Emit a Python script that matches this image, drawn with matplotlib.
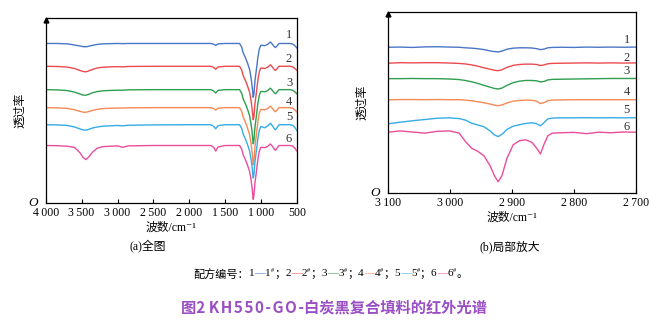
import matplotlib
matplotlib.use('Agg')
import matplotlib.pyplot as plt

plt.rcParams['font.family'] = ['Liberation Serif', 'Noto Sans CJK SC', 'DejaVu Serif']
plt.rcParams['mathtext.fontset'] = 'stix'

colors = ['#4a76c6', '#ec4a4e', '#2f9e50', '#f58a56', '#35ace6', '#e94d9c']
labels = ['1', '2', '3', '4', '5', '6']

# (a) full spectrum, transmittance (arbitrary units)
wn_full = [4000, 3850, 3700, 3600, 3520, 3480, 3440, 3400, 3350, 3280, 3200, 3100,
           3000, 2930, 2850, 2500, 2000, 1700, 1660, 1632, 1600, 1500, 1400, 1300,
           1270, 1250, 1220, 1190, 1160, 1140, 1125, 1110, 1100, 1085, 1065, 1045,
           1025, 1005, 980, 950, 910, 870, 840, 815, 800, 780, 750, 700, 600, 560,
           530, 500]

full_1 = [86, 86, 85.8, 85.2, 84.6, 84.3, 84.2, 84.5, 85.0, 85.5, 85.8, 85.9,
          86, 85.9, 86, 86, 86, 86, 85.6, 85.0, 85.8, 86, 86, 86,
          84, 81, 78.5, 75.5, 72, 67.5, 63, 57, 58.5, 66, 72, 78.5,
          83, 85, 85, 84.8, 85.5, 86.8, 85.5, 84.2, 83.8, 84.6, 86, 86, 86, 85.7,
          84.8, 83.5]
full_2 = [73.7, 73.6, 73.3, 72.5, 71.4, 70.9, 70.7, 71.2, 72.0, 72.8, 73.2, 73.4,
          73.5, 73.4, 73.6, 73.7, 73.7, 73.7, 73.1, 72.1, 73.3, 73.7, 73.7, 73.7,
          71.7, 68.7, 66.2, 63.2, 59.7, 55.2, 50.7, 44.9, 46.5, 53.7, 59.7, 66.2,
          70.7, 72.7, 72.7, 72.5, 73.2, 74.5, 73.2, 71.9, 71.5, 72.3, 73.7, 73.7, 73.7, 73.4,
          72.5, 71.5]
full_3 = [61.1, 61.0, 60.6, 59.8, 58.7, 58.2, 58.1, 58.6, 59.4, 60.1, 60.5, 60.7,
          60.8, 60.8, 61.0, 61.1, 61.1, 61.1, 60.4, 59.3, 60.7, 61.1, 61.1, 61.1,
          59.1, 56.1, 53.6, 50.6, 47.1, 42.6, 38.1, 31.9, 33.6, 41.1, 47.1, 53.6,
          58.1, 60.1, 60.1, 59.9, 60.6, 61.9, 60.6, 59.3, 58.9, 59.7, 61.1, 61.1, 61.1, 60.8,
          59.9, 58.8]
full_4 = [51.4, 51.3, 51.0, 50.3, 49.4, 49.0, 48.9, 49.3, 49.9, 50.5, 50.9, 51.1,
          51.2, 51.2, 51.3, 51.4, 51.4, 51.4, 50.9, 50.1, 51.1, 51.4, 51.4, 51.4,
          49.4, 46.4, 43.7, 40.5, 36.8, 32.0, 27.3, 20.5, 22.3, 30.5, 37.0, 43.8,
          48.4, 50.4, 50.4, 50.2, 50.9, 52.2, 50.9, 49.6, 49.2, 50.0, 51.4, 51.4, 51.4, 51.1,
          50.2, 49.0]
full_5 = [42.2, 42.1, 41.8, 41.0, 39.9, 39.4, 39.3, 39.7, 40.4, 41.0, 41.4, 41.6,
          41.8, 41.6, 41.9, 42.1, 42.2, 42.2, 41.3, 40.0, 41.7, 42.2, 42.2, 42.2,
          40.2, 37.2, 34.6, 31.6, 28.0, 23.6, 19.3, 13.5, 15.2, 22.4, 28.3, 34.7,
          39.2, 41.2, 41.0, 40.5, 41.5, 43.0, 41.5, 40.0, 39.5, 40.5, 42.2, 42.2, 42.2, 41.9,
          40.7, 39.0]
full_6 = [31.0, 30.9, 30.6, 30.0, 27.0, 24.6, 23.4, 24.8, 27.3, 29.6, 30.4, 30.6,
          30.8, 30.0, 30.8, 31.0, 31.0, 31.0, 30.0, 28.0, 30.2, 31.0, 31.0, 31.0,
          29.0, 26.0, 23.5, 20.5, 17.0, 12.5, 8.0, 2.0, 4.0, 11.0, 17.0, 23.5,
          28.0, 30.0, 30.0, 29.8, 30.5, 31.8, 30.5, 29.0, 28.4, 29.5, 31.0, 31.0, 31.0, 30.7,
          29.5, 28.0]

# (b) zoomed region 3100-2700
wn_zoom = [3100, 3080, 3060, 3040, 3020, 3000, 2985, 2975, 2965, 2955, 2945, 2935,
           2928, 2922, 2916, 2908, 2898, 2888, 2878, 2868, 2860, 2854, 2848, 2842,
           2835, 2820, 2800, 2780, 2760, 2740, 2720, 2700]

zoom_1 = [80.3, 80.4, 80.2, 80.5, 80.6, 80.4, 80.3, 80.0, 79.8, 79.5, 79.0, 78.3,
          77.9, 77.7, 78.2, 79.2, 79.8, 80.0, 80.0, 79.9, 79.5, 79.0, 79.3, 80.0,
          80.2, 80.3, 80.2, 80.4, 80.3, 80.4, 80.3, 80.4]
zoom_2 = [71.5, 71.8, 71.7, 71.8, 71.8, 71.6, 71.4, 71.1, 70.6, 69.9, 69.0, 68.2,
          67.6, 67.4, 67.9, 69.2, 70.3, 70.8, 71.0, 71.0, 70.8, 70.2, 70.6, 71.2,
          71.4, 71.5, 71.6, 71.7, 71.6, 71.7, 71.6, 71.7]
zoom_3 = [63.0, 63.0, 63.1, 63.0, 63.0, 62.8, 62.5, 62.0, 61.3, 60.4, 59.3, 58.3,
          57.6, 57.3, 57.8, 59.3, 60.8, 61.6, 62.0, 62.0, 61.8, 61.2, 61.5, 62.3,
          62.6, 62.7, 62.8, 62.9, 63.0, 63.1, 63.1, 63.1]
zoom_4 = [51.3, 51.5, 51.5, 51.4, 51.5, 51.4, 51.4, 51.2, 50.8, 50.3, 49.7, 49.0,
          48.4, 48.1, 48.5, 49.6, 50.6, 51.0, 51.2, 51.1, 50.6, 49.3, 49.8, 50.9,
          51.2, 51.3, 51.4, 51.4, 51.4, 51.4, 51.4, 51.4]
zoom_5 = [38.1, 39.0, 39.8, 40.5, 41.2, 41.4, 41.0, 40.2, 38.5, 37.5, 36.5, 34.2,
          32.0, 31.1, 32.3, 35.0, 36.8, 37.6, 38.3, 38.7, 38.2, 37.0, 38.8, 40.8,
          41.3, 41.4, 41.4, 41.5, 41.4, 41.5, 41.4, 41.5]
zoom_6 = [33.5, 34.2, 33.6, 33.0, 34.0, 34.2, 33.0, 28.5, 24.7, 23.0, 20.5, 15.0,
          9.5, 6.2, 9.5, 19.0, 26.5, 28.8, 29.3, 28.0, 24.7, 21.5, 27.0, 31.5,
          33.0, 33.2, 33.4, 32.7, 33.5, 33.2, 33.6, 33.5]

full_ticks = [4000, 3500, 3000, 2500, 2000, 1500, 1000, 500]
full_ticklabels = ['4\u2009000', '3\u2009500', '3\u2009000', '2\u2009500', '2\u2009000',
                   '1\u2009500', '1\u2009000', '500']
zoom_ticks = [3100, 3000, 2900, 2800, 2700]
zoom_ticklabels = ['3\u2009100', '3\u2009000', '2\u2009900', '2\u2009800', '2\u2009700']

full_label_y = [90.8, 77.8, 64.9, 54.6, 46.5, 34.6]
zoom_label_y = [84.1, 74.4, 67.4, 55.6, 45.9, 36.1]

W, H = 658, 323
fig = plt.figure(figsize=(W / 100, H / 100), dpi=100)


def px_axes(x0, y0, x1, y1):
    return fig.add_axes([x0 / W, 1 - y1 / H, (x1 - x0) / W, (y1 - y0) / H])


ax1 = px_axes(45.7, 17.5, 297, 203)
ax2 = px_axes(387.7, 11.5, 636, 193)

full_series = [full_1, full_2, full_3, full_4, full_5, full_6]
zoom_series = [zoom_1, zoom_2, zoom_3, zoom_4, zoom_5, zoom_6]

for ys, c in zip(full_series, colors):
    ax1.plot(wn_full, ys, color=c, lw=1.0)
for ys, c in zip(zoom_series, colors):
    ax2.plot(wn_zoom, ys, color=c, lw=1.0)

for lab, y in zip(labels, full_label_y):
    ax1.text(611, y, lab, fontsize=9, ha='center', va='center', color='#333333')
for lab, y in zip(labels, zoom_label_y):
    ax2.text(2715, y, lab, fontsize=9, ha='center', va='center', color='#333333')

for ax, xlim, ticks, tl in [(ax1, (4000, 500), full_ticks, full_ticklabels),
                            (ax2, (3100, 2700), zoom_ticks, zoom_ticklabels)]:
    ax.set_xlim(*xlim)
    ax.set_ylim(0, 100)
    ax.set_xticks(ticks)
    ax.set_xticklabels(tl, fontsize=8.5)
    ax.set_yticks([])
    ax.tick_params(axis='x', direction='in', length=3, width=0.8, pad=3)
    for s in ax.spines.values():
        s.set_linewidth(0.9)
    ax.set_xlabel('波数/cm\u207b\u00b9', fontsize=8.5, labelpad=2)
    ax.set_ylabel('透过率', fontsize=8.5, labelpad=14)
    ax.plot([0], [0.985], marker='^', color='black', markersize=3.5,
            transform=ax.transAxes, clip_on=False)
    ax.text(-0.03, 0.0, 'O', style='italic', fontsize=9.5, ha='right', va='center',
            transform=ax.transAxes)

fig.text(148 / W, 1 - 247 / H, '(a)全图', fontsize=8.5, ha='center', va='center')
fig.text(510 / W, 1 - 247 / H, '(b)局部放大', fontsize=8.5, ha='center', va='center')

# legend line with coloured dashes
fig.canvas.draw()
r = fig.canvas.get_renderer()
x = 193 / W
y = 1 - 274 / H
pieces = [('配方编号：', 'black', 8, 0)]
for i, (lab, c) in enumerate(zip(labels, colors)):
    pieces.append((lab, 'black', 8, 0))
    pieces.append(('—', c, 8, 0))
    pieces.append((lab, 'black', 8, 0))
    pieces.append(('#', 'black', 4.5, 0.012))
    pieces.append(('；' if i < 5 else '。', 'black', 8, 0))
for s, c, fs, dy in pieces:
    t = fig.text(x, y + dy, s, color=c, fontsize=fs, ha='left', va='center')
    x += t.get_window_extent(r).width / fig.bbox.width

fig.text(334 / W, 1 - 307 / H, '图2 K\u200aH\u200a5\u200a5\u200a0\u200a-\u200aG\u200aO\u200a-白炭黑复合填料的红外光谱',
         family=['Noto Sans CJK SC', 'DejaVu Sans'], fontweight='bold',
         fontsize=11, color='#9a4fc4', ha='center', va='center')

fig.savefig('out.png', dpi=100)
